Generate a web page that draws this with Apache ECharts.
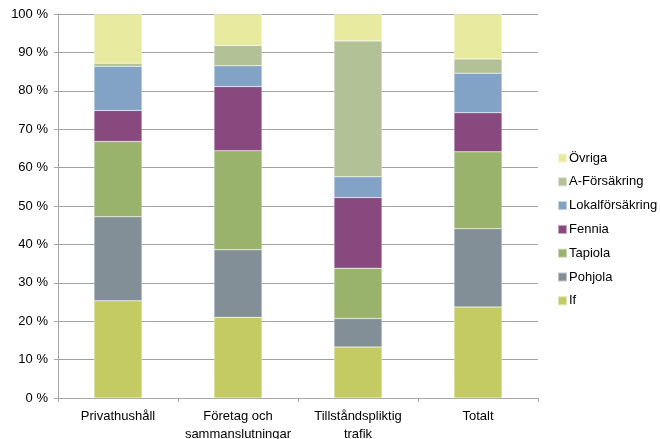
<!DOCTYPE html>
<html>
<head>
<meta charset="utf-8">
<script src="https://cdn.jsdelivr.net/npm/echarts@6/dist/echarts.min.js"></script>
<style>
  html, body { margin: 0; padding: 0; background: #fff; }
  #chart { width: 660px; height: 439px; }
</style>
</head>
<body>
<div id="chart"></div>
<script>
// kategorier och andelar (%) per bolag
var kategorier = ['Privathushåll', 'Företag och\nsammanslutningar', 'Tillståndspliktig\ntrafik', 'Totalt'];
var bolag = ['If', 'Pohjola', 'Tapiola', 'Fennia', 'Lokalförsäkring', 'A-Försäkring', 'Övriga'];
var ifData = [25.3, 21.0, 13.3, 23.7];
var pohjola = [21.9, 17.6, 7.4, 20.4];
var tapiola = [19.6, 25.8, 13.1, 20.0];
var fennia = [8.1, 16.7, 18.4, 10.2];
var lokal = [11.5, 5.4, 5.4, 10.3];
var aForsakring = [0.8, 5.3, 35.4, 3.7];
var ovriga = [12.8, 8.2, 7.0, 11.7];
var farger = ['#c5cb63', '#838f97', '#9ab36c', '#88497f', '#82a2c6', '#b2c296', '#e8eb9f'];

var varden = [ifData, pohjola, tapiola, fennia, lokal, aForsakring, ovriga];
var font = 'Liberation Sans, Arial, sans-serif';

var myChart = echarts.init(document.getElementById('chart'));
var option = {
  animation: false,
  color: farger,
  grid: { left: 58, right: 122, top: 14, bottom: 41, outerBoundsMode: 'none', containLabel: false },
  legend: {
    orient: 'vertical',
    left: 552,
    top: 146,
    data: bolag.slice().reverse(),
    icon: 'rect',
    itemWidth: 9,
    itemHeight: 9,
    itemGap: 9.8,
    textStyle: { fontFamily: font, fontSize: 13, color: '#000', lineHeight: 14, padding: [0, 0, 0, -3] }
  },
  xAxis: {
    type: 'category',
    data: kategorier,
    axisLine: { lineStyle: { color: '#a6a6a6', width: 1 } },
    axisTick: { show: true, length: 4, lineStyle: { color: '#a6a6a6' } },
    axisLabel: { fontFamily: font, fontSize: 13, color: '#000', margin: 9, lineHeight: 18, interval: 0 }
  },
  yAxis: {
    type: 'value',
    min: 0,
    max: 100,
    interval: 10,
    axisLine: { show: true, lineStyle: { color: '#a6a6a6' } },
    axisTick: { show: true, length: 4, lineStyle: { color: '#a6a6a6' } },
    axisLabel: { fontFamily: font, fontSize: 13, color: '#000', margin: 10, formatter: '{value} %' },
    splitLine: { lineStyle: { color: '#a0a0a0', width: 1 } }
  },
  series: bolag.map(function (namn, i) {
    return {
      name: namn,
      type: 'bar',
      stack: 'total',
      barWidth: '40%',
      data: varden[i],
      itemStyle: { borderColor: 'rgba(255,255,255,0.5)', borderWidth: 0.5 }
    };
  })
};
myChart.setOption(option);
</script>
</body>
</html>
